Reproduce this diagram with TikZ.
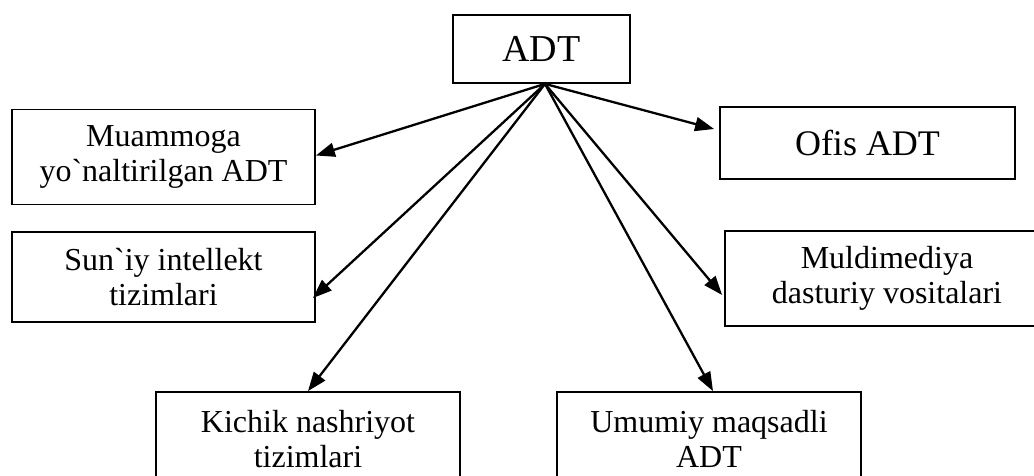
\documentclass[tikz,border=0pt]{standalone}
\usepackage{fontspec}
\setmainfont{Liberation Serif}[Ligatures=TeXOff]
\usetikzlibrary{arrows.meta,calc}
\begin{document}
\begin{tikzpicture}[x=1pt,y=-1pt,
  box/.style={draw,line width=1.8pt,inner sep=0pt,align=center,
    font=\fontsize{32}{35}\selectfont},
  link/.style={line width=2.3pt,-{Triangle[length=19pt,width=14pt]}}]
\useasboundingbox (0,0) rectangle (1034,475);
\node[box,minimum width=177pt,minimum height=68pt,font=\fontsize{38}{40}\selectfont] (adt) at (541.5,49) {ADT};
\node[box,minimum width=303pt,minimum height=95pt] (b1) at (163.5,157) {Muammoga\\yo`naltirilgan ADT};
\node[box,minimum width=303pt,minimum height=90pt] (b2) at (163.5,277) {Sun`iy intellekt\\tizimlari};
\node[box,minimum width=295pt,minimum height=72pt,font=\fontsize{36}{38}\selectfont] (b3) at (867.5,143) {Ofis ADT};
\node[box,minimum width=324pt,minimum height=95pt] (b4) at (887,278.5) {Muldimediya\\dasturiy vositalari};
\node[box,minimum width=304pt,minimum height=94pt] (b5) at (308,439) {Kichik nashriyot\\tizimlari};
\node[box,minimum width=304pt,minimum height=94pt] (b6) at (709,439) {Umumiy maqsadli\\ADT};
\coordinate (o) at ($(adt.south)+(3.5,0)$);
\coordinate (t1) at ($(b1.east)+(0,-1.5)$);
\coordinate (t2) at ($(b2.east)+(-3,21)$);
\coordinate (t3) at ($(b3.west)+(-5,-14)$);
\coordinate (t4) at ($(b4.west)+(-2,16.5)$);
\coordinate (t6) at ($(b6.north)+(4,0)$);
\draw[link] (o) -- (t1);
\draw[link] (o) -- (t2);
\draw[link] (o) -- (t3);
\draw[link] (o) -- (t4);
\draw[link] (o) -- (b5.north);
\draw[link] (o) -- (t6);
\end{tikzpicture}
\end{document}
